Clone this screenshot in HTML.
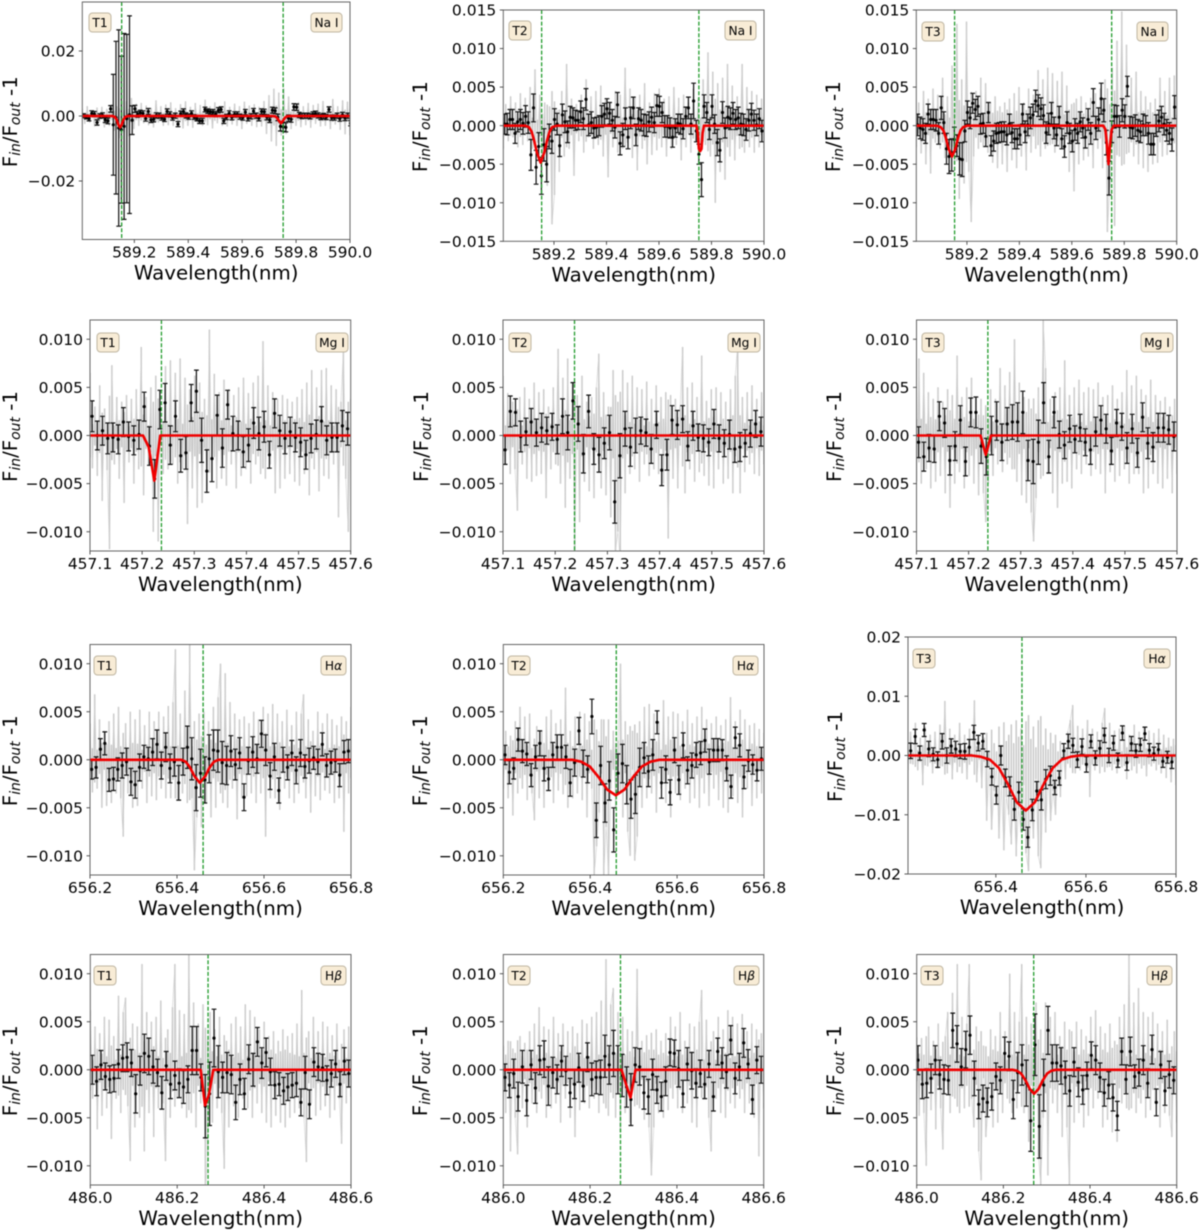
<!DOCTYPE html>
<html lang="en">
<head>
<meta charset="utf-8">
<title>Transmission spectra of Na I, Mg I, H-alpha and H-beta for T1, T2 and T3</title>
<style>
html,body{margin:0;padding:0;background:#fff;}
#figure{display:block;width:1200px;height:1231px;filter:blur(0.4px);font-family:"DejaVu Sans","Liberation Sans",sans-serif;}
</style>
</head>
<body>
<svg id="figure" xmlns="http://www.w3.org/2000/svg" width="1200" height="1231" viewBox="0 0 1200 1231"></svg>
<script>
// All flux values below are in units of 1e-4.
const fluxUnit=1e-4;

const naTicks=[589.2,589.4,589.6,589.8,590.0];
const mgTicks=[457.1,457.2,457.3,457.4,457.5,457.6];
const haTicks=[656.2,656.4,656.6,656.8];
const haTicksT3=[656.4,656.6,656.8];
const hbTicks=[486.0,486.2,486.4,486.6];
const yTicksWide=[0.02,0,-0.02];
const yTicksNa=[0.015,0.010,0.005,0,-0.005,-0.010,-0.015];
const yTicksStd=[0.010,0.005,0,-0.005,-0.010];
const yTicksT3=[0.02,0.01,0,-0.01,-0.02];

// T1 Na I
const p1Flux=[1,-3,-8,8,6,-20,0,2,-12,-15,22,-27,-5,-37,-42,-32,-8,4,-13,22,5,10,8,-8,14,-12,-10,2,1,-5,-10,14,5,-5,1,-25,7,14,2,-2,8,-3,-8,-15,-15,20,15,13,12,6,18,20,-15,-3,8,-4,5,5,-2,-5,12,-7,-1,15,1,-7,14,13,-4,-12,18,16,-4,-32,-33,-35,-7,-10,28,27,3,0,1,1,-1,5,7,2,-3,0,-3,20,-5,-5,1,-8,3,-6,1,-22];
const p1Err=[6,6,7,8,8,8,7,8,8,9,10,155,235,302,226,286,259,304,44,11,9,8,8,8,9,8,8,8,8,8,7,8,8,8,8,8,8,8,8,8,8,7,7,8,8,7,7,7,8,8,8,8,8,8,8,8,8,8,8,8,8,8,8,8,8,8,8,8,8,8,9,9,10,14,14,14,10,9,10,10,8,8,8,8,8,8,8,8,8,8,8,8,8,8,8,8,8,8,8,8];
const p1Raw=[22,-24,30,-20,14,-32,26,-18,28,-35,22,-30,36,-45,30,-68,42,-50,45,-62,55,-40,38,-30,40,-22,32,-28,25,-35,48,-20,30,-30,35,-28,42,-30,24,-25,36,-38,45,-30,28,-36,40,-25,34,-30,50,-28,30,-38,42,-22,26,-30,45,-32,28,-26,38,-30,30,-40,44,-24,32,-30,36,-34,28,-32,46,-55,64,-78,84,-92,72,-60,85,-55,60,-40,38,-30,42,-34,30,-28,40,-36,34,-24,38,-32,46,-30,28,-40,52,-26,30,-42,48,-56,44,-60];
const p1ModelX=[589.007,589.118,589.128,589.135,589.141,589.147,589.153,589.159,589.166,589.176,589.71,589.722,589.73,589.737,589.744,589.751,589.758,589.766,589.778,590.0];
const p1ModelY=[0,0,-3,-12,-27,-35,-27,-12,-3,0,0,-1,-6,-15,-22,-15,-6,-1,0,0];

// T2 Na I
const p2Flux=[2,2,8,8,-10,5,8,3,12,4,-38,23,-54,-27,-65,-25,-50,-14,-20,8,2,-26,14,5,-8,11,10,7,7,18,9,34,1,4,-3,-2,0,12,15,22,16,7,-2,27,-23,-12,9,-15,10,23,-12,9,7,1,0,5,11,4,26,25,17,-1,-1,-3,-15,-3,3,2,-4,12,23,2,32,-7,-37,-70,25,17,-5,25,2,-22,-32,17,-3,11,9,16,8,10,2,1,-5,7,15,7,1,9,-7];
const p2Err=[13,14,13,13,13,13,13,14,14,14,20,18,22,18,24,21,23,16,16,14,14,14,14,14,14,14,13,13,12,14,14,14,14,14,13,13,13,14,14,13,14,14,14,16,15,15,14,15,14,14,14,14,14,14,14,13,13,13,14,13,13,14,14,13,13,12,12,13,13,12,14,13,23,14,13,22,15,13,13,15,12,17,15,14,13,14,14,14,13,14,14,14,14,14,14,13,14,13,14];
const p2Raw=[-30,28,-20,38,-15,30,-28,42,-25,36,-20,50,-30,73,-22,40,-45,30,-78,25,-128,-90,20,-60,45,-40,80,-30,35,-65,28,-20,40,-35,60,-15,38,-30,45,-25,52,-40,34,-67,30,-28,45,-35,40,-30,75,-22,48,-42,36,-58,40,-30,55,-50,30,-38,42,-32,48,-28,35,-40,38,-30,50,-25,36,-45,40,-28,30,-35,48,-20,36,-30,60,-25,95,-40,70,-100,55,-60,62,-70,80,-40,52,-45,38,-30,80,-35,50,-28,45,-35,40,-28,35,-30];
const p2ModelX=[589.007,589.09,589.105,589.115,589.125,589.135,589.149,589.163,589.173,589.183,589.193,589.21,589.743,589.748,589.752,589.757,589.762,589.766,589.771,590.0];
const p2ModelY=[0,0,-2,-8,-20,-35,-48,-35,-20,-8,-2,0,0,-10,-30,-33,-30,-10,0,0];

// T3 Na I
const p3Flux=[1,-3,-5,-10,15,8,8,7,-10,23,4,-30,-40,-38,-18,-26,-43,-44,-7,17,10,29,21,25,2,3,-14,17,-26,-20,-10,-9,-8,-8,-12,2,-9,-17,-17,-12,15,-8,1,10,14,32,26,22,13,-9,2,16,-3,-12,11,-17,-27,4,-10,-20,-5,-10,5,-3,-15,8,-10,30,-3,8,35,20,-22,-68,-8,12,12,-1,20,12,51,-2,-3,0,-6,-8,1,0,-10,-24,-24,0,6,11,2,-6,-10,-18,24];
const p3Err=[14,14,14,13,13,13,13,14,14,15,14,20,22,21,16,14,21,22,14,15,14,13,13,13,13,13,13,13,13,13,13,13,13,13,13,13,13,13,13,13,13,14,14,14,14,14,14,14,14,14,14,14,14,14,14,13,14,14,13,14,14,13,13,13,14,14,14,18,15,15,20,15,16,22,14,15,14,14,15,15,13,14,14,14,14,14,14,13,14,14,14,14,14,14,14,14,14,15,15];
const p3Raw=[-28,30,-36,45,-50,35,-62,48,-22,40,-30,62,-42,38,-30,78,-50,132,-95,60,-75,135,-60,-125,-40,45,-30,62,-28,55,-35,30,-48,38,-55,25,-50,30,-60,35,-45,42,-55,50,-40,30,-58,48,-35,40,-30,72,-40,60,-30,75,-25,68,-35,58,-28,70,-42,52,-60,28,-85,35,-50,38,-45,30,-40,36,-55,42,-30,48,-55,60,-138,-80,75,-130,110,-40,148,-50,105,-35,62,-40,70,-50,45,-55,38,-60,30,-50,35,-48,62,-40,45,-38,62,-30,65,-40];
const p3ModelX=[589.007,589.085,589.1,589.11,589.12,589.13,589.143,589.156,589.166,589.176,589.186,589.2,589.72,589.728,589.734,589.74,589.746,589.752,589.76,590.0];
const p3ModelY=[0,0,-2,-6,-16,-30,-40,-30,-16,-6,-2,0,0,-5,-24,-50,-24,-5,0,0];

// T1 Mg I
const p4Flux=[20,0,5,-3,-2,-4,14,-1,-5,1,30,-11,-45,27,34,-10,20,-21,-18,34,46,-5,-37,-24,21,-13,32,2,0,-17,-10,13,2,9,-20,23,5,-3,4,-2,-7,-20,-3,1,15,-5,-2,-2,10,7];
const p4Err=[16,15,15,16,15,15,15,15,15,15,15,20,20,20,20,20,16,17,17,19,22,23,22,24,21,20,15,18,15,16,17,16,17,16,14,15,16,16,15,15,15,15,15,15,15,15,15,15,16,17];
const p4Raw=[65,-34,30,-42,52,-68,28,-36,-118,73,-30,40,-45,35,-70,42,-28,38,-50,48,-35,92,-62,40,-30,50,-100,62,-110,30,-40,72,-35,78,-30,65,-50,80,-35,60,-92,48,-55,62,-75,55,-70,38,-60,110,-48,64,-55,45,-45,58,-52,48,-30,42,-55,50,-42,60,-35,44,-50,55,-30,62,-40,98,-45,52,-30,45,-60,38,-55,42,-45,38,-40,35,-48,40,-52,48,-40,55,-62,68,-35,50,-58,68,-42,70,-45,52,-30,48,-85,35,90,-45,-100,38];
const p4ModelX=[457.1,457.2017,457.2125,457.2234,457.2349,457.6];
const p4ModelY=[0,0,-12,-47,0,0];

// T2 Mg I
const p5Flux=[-15,25,24,-1,4,14,3,8,5,9,-4,20,3,36,12,-19,25,-14,-20,-8,3,-69,-21,7,-12,0,5,3,-14,11,-36,-20,16,11,17,-11,10,-2,-3,-7,12,-3,-8,1,-14,-12,-8,2,12,4];
const p5Err=[15,16,14,16,14,14,14,15,14,14,15,18,18,19,18,20,17,16,18,16,18,22,23,18,20,18,14,14,15,14,16,16,15,15,14,15,15,14,14,14,15,14,14,15,14,15,14,14,14,15];
const p5Raw=[62,-30,44,-40,35,-35,-78,40,-30,50,-45,38,-48,55,-42,45,-40,48,-65,30,-35,50,-30,90,-50,60,-75,80,-45,55,-120,42,-90,62,-48,35,-58,40,-65,50,85,-55,45,-62,30,-85,68,-120,-100,-130,68,-60,55,-40,62,-35,50,-48,48,-30,56,-42,38,-35,52,-40,40,-50,45,-107,42,-45,38,-55,30,92,-60,50,-35,55,-48,40,-38,83,-42,36,-52,48,-55,50,-35,45,-50,35,-45,48,-60,62,95,-60,40,-38,45,-30,52,-40,38,-42,45,-30];
const p5ModelX=[457.1,457.6];
const p5ModelY=[0,0];

// T3 Mg I
const p6Flux=[-7,-22,-13,-14,20,13,-26,-11,16,-27,24,24,-11,-22,0,15,-7,12,14,14,24,-26,-27,-7,34,-22,24,1,-10,7,-4,8,-7,-15,4,16,7,-16,13,9,-13,7,-18,19,-8,-12,8,8,6,-1];
const p6Err=[16,15,14,14,15,15,15,15,15,15,15,16,18,19,20,20,19,17,18,20,22,21,23,23,21,17,16,14,14,14,14,14,14,15,15,15,15,14,14,14,16,15,15,15,16,15,15,15,15,15];
const p6Raw=[-48,80,-50,65,-35,45,-55,38,-48,50,-42,35,-60,48,-75,42,-50,83,-38,40,-55,50,-42,60,-50,40,-62,38,-60,-90,-50,48,-42,38,-30,70,-38,52,-30,66,-35,100,-48,55,-62,40,-70,38,-80,-110,-65,50,-45,120,70,-40,38,-60,45,-75,50,-50,78,-48,42,-55,50,-35,58,-40,45,-30,50,-42,48,-35,55,-40,40,-60,42,-38,52,-48,38,-42,45,-35,68,-50,52,-40,62,-40,48,-60,42,-55,58,-40,42,-50,36,-55,40,-45,30,-60,38,-40];
const p6ModelX=[457.1,457.2228,457.233,457.2432,457.6];
const p6ModelY=[0,0,-20,0,0];

// T1 H-alpha
const p7Flux=[-10,-8,11,17,-21,-20,-10,-6,-2,-23,-26,-8,3,1,8,16,-6,13,-9,-2,-24,-2,13,1,-29,-14,-21,1,10,9,-3,-6,9,-5,7,-39,-1,8,1,27,10,-17,3,-32,0,-8,7,-11,7,-7,-1,2,-2,16,-6,-3,-1,-16,8,9];
const p7Err=[10,11,11,12,12,12,12,13,14,14,14,14,12,12,14,15,14,15,15,15,18,14,22,22,24,25,24,25,21,22,22,20,16,16,16,14,14,16,15,14,16,14,14,13,13,13,13,14,14,12,13,12,13,12,12,12,12,12,12,12];
const p7Raw=[38,-34,68,-30,42,-50,30,-48,40,-45,48,-35,55,-40,-80,38,-35,50,-50,42,-48,52,-30,36,-45,50,-38,40,-42,50,-30,45,-40,56,-40,60,115,-42,48,-35,72,-45,120,-40,-115,-60,48,-70,50,-45,40,-60,55,-50,65,100,-45,90,-50,60,-30,48,-62,42,-40,45,-38,38,-35,50,-45,42,-35,55,-80,48,-40,58,-40,48,-52,40,-30,52,-40,36,-45,50,-35,48,68,-40,42,-55,30,-38,50,-42,38,-32,48,-35,42,-45,36,-40,45,-75,40,-35,55];
const p7ModelX=[656.2,656.41,656.42,656.43,656.44,656.4525,656.465,656.475,656.485,656.495,656.8];
const p7ModelY=[0,0,-2,-8,-17,-24,-17,-8,-2,0,0];

// T2 H-alpha
const p8Flux=[5,-13,-9,21,9,6,-16,3,17,-9,-20,5,13,13,3,-24,-3,30,-4,-10,45,-63,-6,-45,-22,-73,-14,-4,-26,-41,-36,-8,2,-12,5,39,-24,-10,-34,10,-21,15,-11,-6,5,7,20,-2,10,10,10,-9,-28,23,15,-18,-1,-5,-11,1];
const p8Err=[10,12,11,12,12,12,12,12,13,13,12,13,13,13,12,14,14,14,14,14,18,18,20,20,20,23,20,20,20,20,20,20,16,16,16,12,16,14,13,13,15,13,14,13,13,12,12,13,12,12,11,13,12,11,12,12,11,10,11,12];
const p8Raw=[-30,30,-40,25,-58,40,-35,55,-30,45,-42,48,-35,-63,35,-40,30,-50,45,-30,52,-45,38,-32,42,-36,75,-50,30,-40,45,-35,50,-42,48,-60,40,-30,-120,-90,-55,42,-120,-70,-120,-30,30,-50,20,100,-60,40,-75,-100,30,-105,-80,40,-50,55,-40,58,-35,48,-55,40,-30,62,-45,45,-60,50,-35,48,-42,40,-30,52,-45,38,-40,45,-50,55,-35,42,-48,38,-30,45,-42,36,-50,42,-55,65,-38,40,-45,52,-60,42,-30,36,-48,38,-40,32,-35,28];
const p8ModelX=[656.2,656.359,656.379,656.399,656.419,656.439,656.459,656.479,656.499,656.519,656.539,656.559,656.8];
const p8ModelY=[0,0,-2,-7,-18,-31,-37,-31,-18,-7,-2,0,0];

// T3 H-alpha
const p9Flux=[8,32,4,43,11,2,-7,24,0,16,11,7,7,14,39,21,24,-6,-36,-67,0,-38,-52,-91,-62,-108,-138,-92,-60,-75,-40,-34,-54,-38,8,24,17,-7,15,-15,24,-4,12,34,0,21,-8,38,-12,20,8,18,37,9,3,10,-10,-3,-11];
const p9Err=[13,12,12,11,13,11,13,13,13,12,13,12,13,13,12,13,13,13,14,15,16,15,16,18,17,18,17,18,16,17,16,16,12,12,12,12,12,13,13,13,11,12,13,12,12,12,12,12,13,12,11,11,11,11,11,10,10,10,11];
const p9Raw=[-25,40,-15,55,-25,30,-50,48,-18,35,-30,40,-22,52,-18,92,-30,45,-40,35,-28,55,-30,35,-40,45,-10,93,-45,20,-55,30,-110,-20,-125,-60,-20,-140,-50,-160,-70,-100,-150,-60,-170,-90,-130,-50,-165,-195,-80,-140,-40,-170,-190,-50,-130,-30,-110,-60,-100,-20,-70,10,-40,40,60,85,-30,50,-25,45,-15,60,-70,45,-25,40,-30,55,80,-20,55,-25,42,-30,45,-20,50,-40,35,-25,52,-30,40,-22,48,-35,42,-18,38,-25,45,-30,35,-38,30,-45,28,-50];
const p9ModelX=[656.205,656.3465,656.3665,656.3865,656.4065,656.4265,656.4465,656.4665,656.4865,656.5065,656.5265,656.5465,656.5665,656.5865,656.8];
const p9ModelY=[0,0,-2,-7,-21,-48,-79,-93,-79,-48,-21,-7,-2,0,0];

// T1 H-beta
const p10Flux=[0,-12,5,-7,-10,-9,6,12,13,7,-25,-1,17,14,3,-3,-24,4,-15,-6,-14,-18,-10,20,20,-8,-38,-25,33,-2,-8,-3,-5,-34,-10,-25,11,0,29,7,18,-2,-16,-15,-22,-18,-16,-14,-34,-3,-36,8,3,2,-11,-4,6,-15,9,-4];
const p10Err=[15,15,15,14,14,14,15,14,15,14,20,15,20,19,17,14,17,15,15,15,15,17,14,25,25,14,33,33,30,27,16,21,20,18,16,16,15,17,15,16,15,14,14,12,14,14,13,14,14,17,15,15,14,14,15,14,14,13,14,14];
const p10Raw=[62,-30,45,-62,38,-48,55,-40,52,-72,35,-30,77,-45,60,75,-38,-95,48,-60,45,-50,110,-85,60,-45,50,-70,55,-40,72,-35,-95,42,-50,65,110,-30,62,-40,58,-50,120,-45,70,-60,48,-35,68,-125,-90,60,-55,42,-40,55,-45,-103,30,-60,48,-38,55,-50,45,-30,68,-40,62,-50,55,-35,42,-45,50,-55,35,-60,40,-48,30,-55,42,-60,35,-50,38,-45,48,-40,83,-50,-96,40,-35,55,-48,40,-42,50,-38,45,-50,36,-42,48,-30,-77,42,-35,45,-28];
const p10ModelX=[486.0,486.254,486.264,486.273,486.283,486.6];
const p10ModelY=[0,0,-37,-26,0,0];

// T2 H-beta
const p11Flux=[-8,-16,-4,-28,3,-32,5,-19,10,11,-17,-3,-10,9,-1,-24,-15,2,-17,13,-10,-8,-8,14,5,17,0,-6,-18,-31,5,3,-24,-28,-5,-21,-28,-12,18,17,1,-25,6,-1,-14,-4,-15,6,-28,19,7,-2,31,-9,3,28,6,-31,10,0];
const p11Err=[14,13,15,15,17,16,15,16,15,19,20,16,15,16,15,15,15,15,16,15,17,17,18,22,20,24,25,22,21,27,18,19,17,18,16,14,15,15,14,14,19,14,17,19,15,14,15,14,15,14,16,17,15,16,14,15,15,15,14,14];
const p11Raw=[25,-45,30,-85,22,-50,-88,35,-40,28,-60,40,-35,48,-45,65,-30,45,-50,42,-40,55,-35,38,-55,48,-30,40,-50,45,-70,38,-42,52,-35,48,-40,55,-30,60,-45,72,-35,115,-48,68,85,-50,60,-65,55,-45,42,-55,40,-38,105,-40,30,-52,36,-60,-110,-60,42,-45,30,-50,38,-42,55,-30,45,-40,60,-45,30,-35,48,-55,45,-60,50,83,-30,52,-50,-85,40,-30,55,-45,42,-50,62,-35,55,-40,48,-30,58,-45,40,-35,48,-50,42,-90,38,-40];
const p11ModelX=[486.0,486.2724,486.2847,486.2932,486.3047,486.6];
const p11ModelY=[0,0,-18,-29,0,0];

// T3 H-beta
const p12Flux=[10,-15,-14,-9,10,-5,-10,-11,41,27,3,21,36,-9,-36,-30,-34,-28,-7,-11,17,14,-31,-3,5,-14,-53,26,-59,-16,41,7,7,4,-8,-22,8,-13,-21,-6,15,10,-8,-24,-16,-29,-48,19,-10,19,-7,-3,10,-14,21,-34,5,-22,-5,-11];
const p12Err=[15,15,15,15,15,15,15,15,18,19,19,19,20,18,15,14,15,14,14,14,17,15,20,21,21,24,32,32,33,27,25,19,19,19,17,16,15,15,15,14,14,15,15,14,14,14,15,14,15,15,12,14,15,15,15,14,14,15,14,14];
const p12Raw=[34,-48,33,-45,-100,45,-42,30,-62,48,-40,-83,35,60,-45,80,-30,110,-45,55,-40,48,110,-30,-60,45,-85,-115,25,-70,-40,42,-60,35,-55,60,-45,40,-30,100,-45,60,-40,50,110,-45,55,-75,48,-60,70,-90,-120,-50,70,-110,55,-35,60,-45,35,-70,50,-60,-120,40,-55,50,-45,42,-60,35,-48,55,-40,62,-30,45,-60,38,-52,48,-65,30,-75,55,-35,68,-40,120,-40,70,-45,85,-35,60,-50,55,-42,60,-35,48,-60,40,-45,52,-48,-70,40,-55];
const p12ModelX=[486.0,486.221,486.231,486.241,486.251,486.261,486.271,486.281,486.291,486.301,486.311,486.321,486.6];
const p12ModelY=[0,0,-1,-4,-11,-20,-25,-20,-11,-4,-1,0,0];

const panels=[
 {id:'t1-na',L:82.3,R:350,T:2,B:239.5,xlim:[589.007,590.0],ylim:[-0.038,0.03508],xt:naTicks,yt:yTicksWide,yd:2,flux:p1Flux,err:p1Err,raw:p1Raw,mx:p1ModelX,my:p1ModelY,start:589.012,lines:[589.153,589.752],tag:'T1',species:'Na I',tb:[89,13,22],sb:[311,13,31],yl:17},
 {id:'t2-na',L:503.3,R:764,T:10,B:241.3,xlim:[589.007,590.0],ylim:[-0.015,0.015],xt:naTicks,yt:yTicksNa,yd:3,flux:p2Flux,err:p2Err,raw:p2Raw,mx:p2ModelX,my:p2ModelY,start:589.012,lines:[589.153,589.752],tag:'T2',species:'Na I',tb:[509,21,22],sb:[725,21,31],yl:427},
 {id:'t3-na',L:916.3,R:1176.7,T:10,B:241.3,xlim:[589.007,590.0],ylim:[-0.015,0.015],xt:naTicks,yt:yTicksNa,yd:3,flux:p3Flux,err:p3Err,raw:p3Raw,mx:p3ModelX,my:p3ModelY,start:589.012,lines:[589.153,589.752],tag:'T3',species:'Na I',tb:[922,22,22],sb:[1137,22,31],yl:840},
 {id:'t1-mg',L:90,R:350.7,T:320,B:551,xlim:[457.1,457.6],ylim:[-0.012,0.012],xt:mgTicks,yt:yTicksStd,yd:3,flux:p4Flux,err:p4Err,raw:p4Raw,mx:p4ModelX,my:p4ModelY,start:457.104,lines:[457.237],tag:'T1',species:'Mg I',tb:[97,333,22],sb:[316,333,32],yl:17},
 {id:'t2-mg',L:503,R:764,T:320,B:551,xlim:[457.1,457.6],ylim:[-0.012,0.012],xt:mgTicks,yt:yTicksStd,yd:3,flux:p5Flux,err:p5Err,raw:p5Raw,mx:p5ModelX,my:p5ModelY,start:457.104,lines:[457.237],tag:'T2',species:'Mg I',tb:[509,333,22],sb:[728,333,32],yl:428},
 {id:'t3-mg',L:916.5,R:1177,T:320,B:551,xlim:[457.1,457.6],ylim:[-0.012,0.012],xt:mgTicks,yt:yTicksStd,yd:3,flux:p6Flux,err:p6Err,raw:p6Raw,mx:p6ModelX,my:p6ModelY,start:457.104,lines:[457.237],tag:'T3',species:'Mg I',tb:[922,333,22],sb:[1141,333,32],yl:841},
 {id:'t1-halpha',L:90,R:351,T:644.5,B:875,xlim:[656.2,656.8],ylim:[-0.012,0.012],xt:haTicks,yt:yTicksStd,yd:3,flux:p7Flux,err:p7Err,raw:p7Raw,mx:p7ModelX,my:p7ModelY,start:656.204,lines:[656.46],tag:'T1',species:'H',greek:'α',tb:[94,656,22],sb:[321,656,25],yl:17},
 {id:'t2-halpha',L:503.3,R:764,T:644.5,B:875,xlim:[656.2,656.8],ylim:[-0.012,0.012],xt:haTicks,yt:yTicksStd,yd:3,flux:p8Flux,err:p8Err,raw:p8Raw,mx:p8ModelX,my:p8ModelY,start:656.204,lines:[656.46],tag:'T2',species:'H',greek:'α',tb:[508,656,22],sb:[733,656,25],yl:427},
 {id:'t3-halpha',L:908,R:1176,T:637,B:874,xlim:[656.205,656.8],ylim:[-0.02,0.02],xt:haTicksT3,yt:yTicksT3,yd:2,flux:p9Flux,err:p9Err,raw:p9Raw,mx:p9ModelX,my:p9ModelY,start:656.211,lines:[656.458],tag:'T3',species:'H',greek:'α',tb:[913,649,22],sb:[1144,649,26],yl:842},
 {id:'t1-hbeta',L:90.3,R:351,T:954.5,B:1185,xlim:[486.0,486.6],ylim:[-0.012,0.012],xt:hbTicks,yt:yTicksStd,yd:3,flux:p10Flux,err:p10Err,raw:p10Raw,mx:p10ModelX,my:p10ModelY,start:486.0046,lines:[486.271],tag:'T1',species:'H',greek:'β',tb:[94,966,22],sb:[321,966,25],yl:17},
 {id:'t2-hbeta',L:503.3,R:763.7,T:954.5,B:1185,xlim:[486.0,486.6],ylim:[-0.012,0.012],xt:hbTicks,yt:yTicksStd,yd:3,flux:p11Flux,err:p11Err,raw:p11Raw,mx:p11ModelX,my:p11ModelY,start:486.004,lines:[486.27],tag:'T2',species:'H',greek:'β',tb:[508,966,22],sb:[734,966,25],yl:427},
 {id:'t3-hbeta',L:916.7,R:1176.7,T:954.5,B:1185,xlim:[486.0,486.6],ylim:[-0.012,0.012],xt:hbTicks,yt:yTicksStd,yd:3,flux:p12Flux,err:p12Err,raw:p12Raw,mx:p12ModelX,my:p12ModelY,start:486.003,lines:[486.27],tag:'T3',species:'H',greek:'β',tb:[921,966,22],sb:[1147,966,25],yl:841}
];

const NS='http://www.w3.org/2000/svg';
const root=document.getElementById('figure');
const binStep=0.01;
const spineColor='#666666';
const tickFont=15.5;
const titleFont=19.8;

function make(parent,tag,attrs){
  const node=document.createElementNS(NS,tag);
  for(const k in attrs){node.setAttribute(k,attrs[k]);}
  parent.appendChild(node);
  return node;
}

const defs=make(root,'defs',{});



function fmtTick(v,d){return v.toFixed(d).replace('-','\u2212');}

panels.forEach(function(p){
  const sx=function(w){return p.L+(w-p.xlim[0])/(p.xlim[1]-p.xlim[0])*(p.R-p.L);};
  const sy=function(f){return p.B-(f-p.ylim[0])/(p.ylim[1]-p.ylim[0])*(p.B-p.T);};

  const g=make(root,'g',{});
  
  

  const clip=make(defs,'clipPath',{id:'clip-'+p.id});
  
  
  const clipRect=make(clip,'rect',{x:p.L,y:p.T,width:p.R-p.L,height:p.B-p.T});
  
  

  const plot=make(g,'g',{'clip-path':'url(#clip-'+p.id+')'});
  
  

  // raw spectrum: vertical strokes to each sample plus a fine connecting line
  const rawXY=p.raw.map(function(v,i){
    const w=p.xlim[0]+i/(p.raw.length-1)*(p.xlim[1]-p.xlim[0]);
    return [sx(w),sy(v*fluxUnit),sy(v*fluxUnit*-0.35)];
  });
  const rawStrokes=rawXY.map(function(c){
    return 'M'+c[0].toFixed(1)+' '+c[2].toFixed(1)+'V'+c[1].toFixed(1);
  }).join('');
  const rawBars=make(plot,'path',{d:rawStrokes,fill:'none',stroke:'#c8c8c8','stroke-width':1.5});
  
  
  const rawPts=rawXY.map(function(c){return c[0].toFixed(1)+','+c[1].toFixed(1);}).join(' ');
  const rawLine=make(plot,'polyline',{points:rawPts,fill:'none',stroke:'#cfcfcf','stroke-width':0.6,'stroke-linejoin':'round'});
  
  

  // binned points with error bars
  p.flux.forEach(function(v,i){
    const w=p.start+i*binStep;
    const x=sx(w), y=sy(v*fluxUnit), e=p.err[i]*fluxUnit;
    const top=sy(v*fluxUnit+e), bot=sy(v*fluxUnit-e);
    const d='M'+x.toFixed(1)+' '+top.toFixed(1)+'V'+bot.toFixed(1)+
      'M'+(x-2.4).toFixed(1)+' '+top.toFixed(1)+'H'+(x+2.4).toFixed(1)+
      'M'+(x-2.4).toFixed(1)+' '+bot.toFixed(1)+'H'+(x+2.4).toFixed(1);
    const bar=make(plot,'path',{d:d,fill:'none',stroke:'#111','stroke-width':1.2});
    
    
    const dot=make(plot,'circle',{cx:x.toFixed(1),cy:y.toFixed(1),r:1.6,fill:'#000'});
    
    
  });

  // rest wavelength markers
  p.lines.forEach(function(w){
    const rest=make(plot,'line',{x1:sx(w),x2:sx(w),y1:p.T,y2:p.B,stroke:'#1f9a2a','stroke-width':1.3,'stroke-dasharray':'4 1.8'});
    
    
  });

  // model fit
  const modelPts=p.mx.map(function(w,i){
    return sx(w).toFixed(1)+','+sy(p.my[i]*fluxUnit).toFixed(1);
  }).join(' ');
  const model=make(plot,'polyline',{points:modelPts,fill:'none',stroke:'#f00000','stroke-width':2.6,'stroke-linejoin':'round'});
  
  

  // frame
  const frame=make(g,'rect',{x:p.L,y:p.T,width:p.R-p.L,height:p.B-p.T,fill:'none',stroke:spineColor,'stroke-width':1});
  
  

  // x ticks
  p.xt.forEach(function(w){
    const x=sx(w);
    const tick=make(g,'line',{x1:x,x2:x,y1:p.B,y2:p.B+3.5,stroke:'#444','stroke-width':0.9});
    
    
    const lab=make(g,'text',{x:x,y:p.B+18,'text-anchor':'middle','font-size':tickFont,fill:'#000'});
    
    
    lab.textContent=w.toFixed(1);
  });

  // y ticks
  p.yt.forEach(function(f){
    const y=sy(f);
    const tick=make(g,'line',{x1:p.L-3.5,x2:p.L,y1:y,y2:y,stroke:'#444','stroke-width':0.9});
    
    
    const lab=make(g,'text',{x:p.L-7,y:y+5.6,'text-anchor':'end','font-size':tickFont,fill:'#000'});
    
    
    lab.textContent=fmtTick(f,p.yd);
  });

  // axis titles
  const xTitle=make(g,'text',{x:(p.L+p.R)/2,y:p.B+40,'text-anchor':'middle','font-size':titleFont,fill:'#000'});
  
  
  xTitle.textContent='Wavelength(nm)';

  const midY=(p.T+p.B)/2+1;
  const yTitle=make(g,'text',{transform:'translate('+p.yl+' '+midY+') rotate(-90)','text-anchor':'middle','font-size':titleFont,fill:'#000'});
  
  
  const f1=make(yTitle,'tspan',{});
  
  
  f1.textContent='F';
  const s1=make(yTitle,'tspan',{dy:3,'font-size':13.9,'font-style':'italic'});
  
  
  s1.textContent='in';
  const f2=make(yTitle,'tspan',{dy:-3});
  
  
  f2.textContent='/F';
  const s2=make(yTitle,'tspan',{dy:3,'font-size':13.9,'font-style':'italic'});
  
  
  s2.textContent='out';
  const f3=make(yTitle,'tspan',{dy:-3});
  
  
  f3.textContent=' -1';

  // transit tag
  const tagBox=make(g,'rect',{x:p.tb[0],y:p.tb[1],width:p.tb[2],height:19,rx:3.5,fill:'#f8ecd6',stroke:'#bfb6a2','stroke-width':1});
  
  
  const tagText=make(g,'text',{x:p.tb[0]+p.tb[2]/2,y:p.tb[1]+14,'text-anchor':'middle','font-size':12.2,fill:'#000'});
  
  
  tagText.textContent=p.tag;

  // species tag
  const spBox=make(g,'rect',{x:p.sb[0],y:p.sb[1],width:p.sb[2],height:19,rx:3.5,fill:'#f8ecd6',stroke:'#bfb6a2','stroke-width':1});
  
  
  const spText=make(g,'text',{x:p.sb[0]+p.sb[2]/2,y:p.sb[1]+14,'text-anchor':'middle','font-size':12.2,fill:'#000'});
  
  
  spText.textContent=p.species;
  if(p.greek){
    const gr=make(spText,'tspan',{'font-style':'italic'});
    
    
    gr.textContent=p.greek;
  }
});
</script>
</body>
</html>
